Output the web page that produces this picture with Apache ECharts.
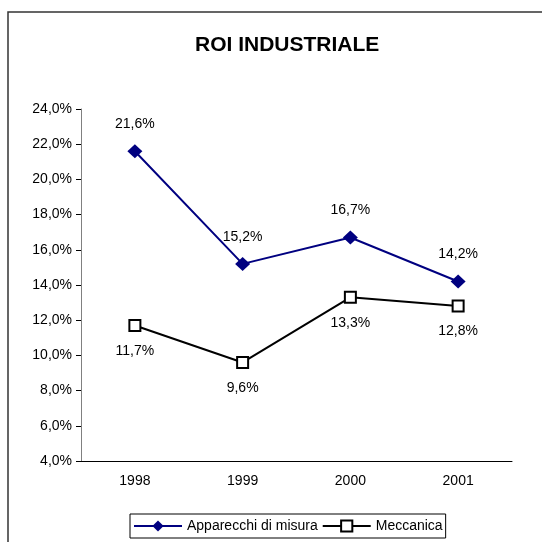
<!DOCTYPE html>
<html>
<head>
<meta charset="utf-8">
<script src="https://cdn.jsdelivr.net/npm/echarts@6/dist/echarts.min.js"></script>
<style>
	html, body { margin: 0; padding: 0; background: #fff; }
	#chart { width: 542px; height: 542px; }
</style>
</head>
<body>
<div id="chart"></div>
<script>
// 데이터
const anni = ['1998', '1999', '2000', '2001'];
const apparecchi = [21.6, 15.2, 16.7, 14.2];
const meccanica = [11.7, 9.6, 13.3, 12.8];

const fmt = v => v.toFixed(1).replace('.', ',') + '%';

const chart = echarts.init(document.getElementById('chart'));

const option = {
	animation: false,
	textStyle: { fontFamily: 'Liberation Sans, Arial, sans-serif' },
	title: {
		text: 'ROI INDUSTRIALE',
		left: 190,
		top: 30,
		textStyle: { fontSize: 21, fontWeight: 'bold', color: '#000' }
	},
	graphic: [
		{
			type: 'rect',
			shape: { x: 8, y: 12, width: 600, height: 600 },
			style: { fill: 'none', stroke: '#333', lineWidth: 1.5 },
			silent: true
		}
	],
	legend: {
		bottom: 4,
		left: 130,
		itemWidth: 48,
		itemHeight: 14,
		itemGap: 4,
		padding: [5, 3],
		borderColor: '#000',
		borderWidth: 1,
		textStyle: { fontSize: 14, color: '#000' },
		data: ['Apparecchi di misura', 'Meccanica']
	},
	grid: { left: 81, right: 30, top: 109, bottom: 81 },
	xAxis: {
		type: 'category',
		data: anni,
		boundaryGap: true,
		axisLine: { lineStyle: { color: '#000' } },
		axisTick: { length: 5, lineStyle: { color: '#000' } },
		axisLabel: { fontSize: 14, color: '#000', margin: 13 }
	},
	yAxis: {
		type: 'value',
		min: 4,
		max: 24,
		interval: 2,
		splitLine: { show: false },
		axisLine: { show: true, lineStyle: { color: '#808080' } },
		axisTick: { show: true, length: 5, lineStyle: { color: '#000' } },
		axisLabel: { fontSize: 14, color: '#000', margin: 9, formatter: v => fmt(v) }
	},
	series: [
		{
			name: 'Apparecchi di misura',
			type: 'line',
			data: apparecchi,
			symbol: 'diamond',
			symbolSize: [15, 14],
			itemStyle: { color: '#000080' },
			lineStyle: { color: '#000080', width: 2 },
			label: {
				show: true, position: 'top', distance: 13,
				fontSize: 14, color: '#000',
				formatter: p => fmt(p.value)
			}
		},
		{
			name: 'Meccanica',
			type: 'line',
			data: meccanica,
			symbol: 'rect',
			symbolSize: 11,
			itemStyle: { color: '#fff', borderColor: '#000', borderWidth: 2 },
			lineStyle: { color: '#000', width: 2 },
			label: {
				show: true, position: 'bottom', distance: 12,
				fontSize: 14, color: '#000',
				formatter: p => fmt(p.value)
			}
		}
	]
};

chart.setOption(option);
</script>
</body>
</html>
